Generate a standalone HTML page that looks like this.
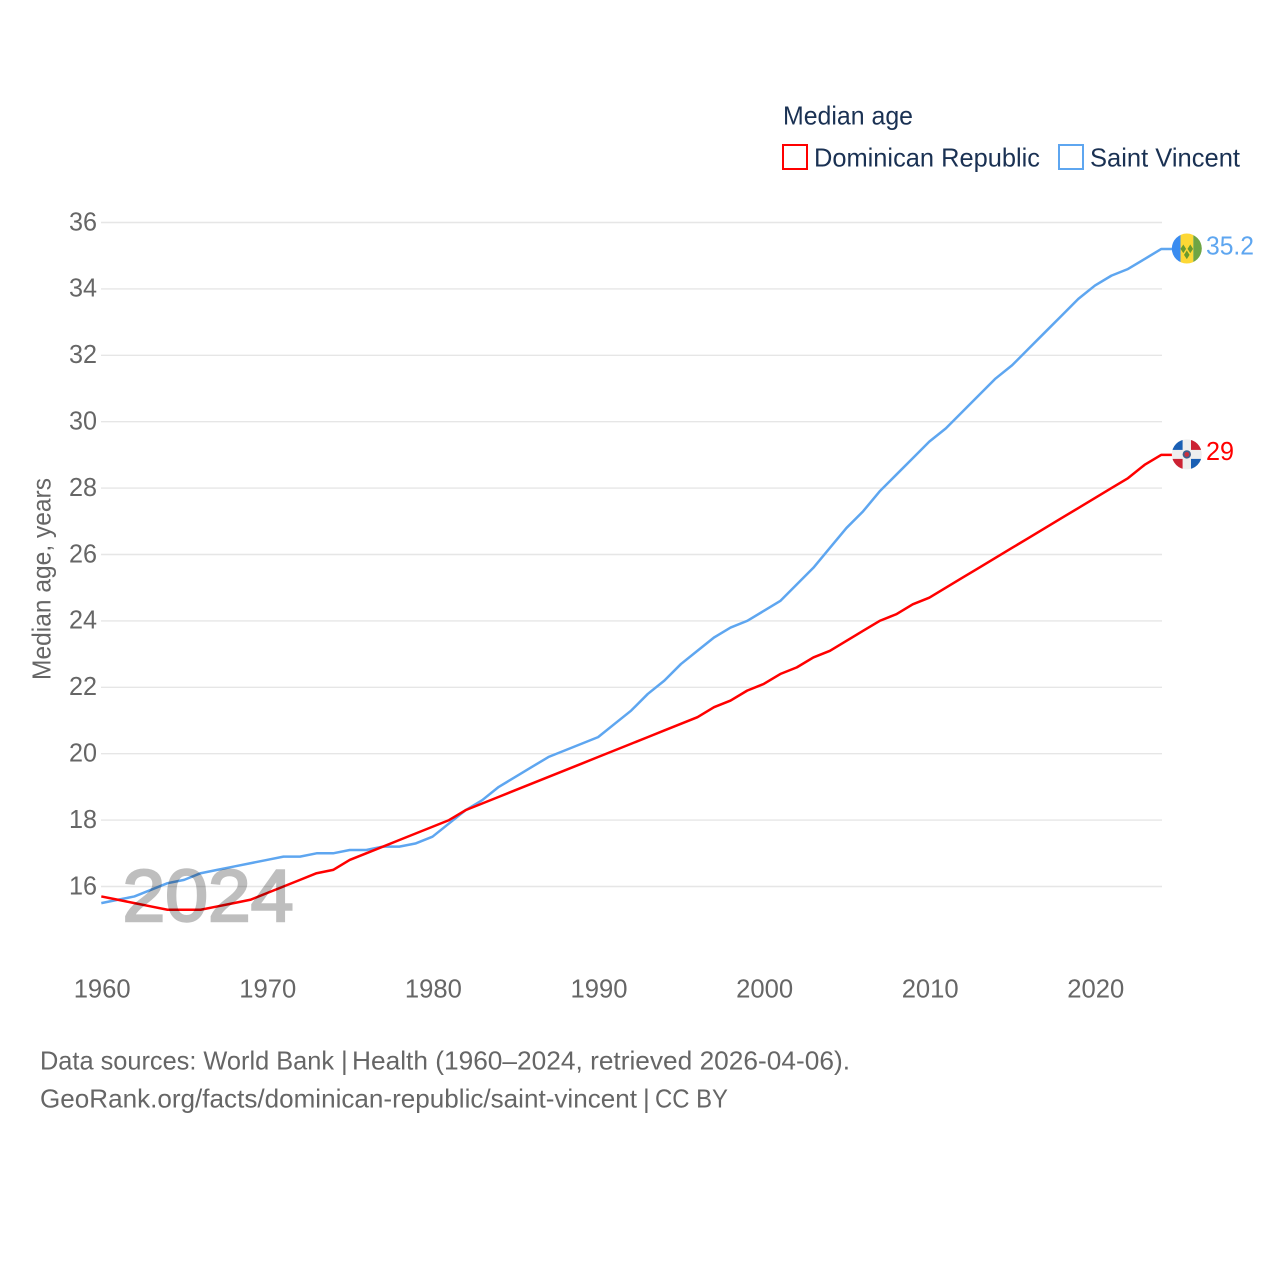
<!DOCTYPE html>
<html lang="en">
<head>
<meta charset="utf-8">
<title>Median age: Dominican Republic and Saint Vincent</title>
<style>
html,body{margin:0;padding:0;background:#fff;width:1280px;height:1280px;overflow:hidden}
svg{display:block}
text{font-family:"Liberation Sans",sans-serif}
</style>
</head>
<body>
<svg id="chart" width="1280" height="1280" viewBox="0 0 1280 1280" xmlns="http://www.w3.org/2000/svg">
  <defs>
    <clipPath id="flag-clip"><circle cx="0" cy="0" r="15"></circle></clipPath>
  </defs>
  <rect x="0" y="0" width="1280" height="1280" fill="#fff"></rect>

  <g>
    <text x="783" y="124.3" font-size="26" fill="#1a3153" textLength="130" lengthAdjust="spacingAndGlyphs">Median age</text>
    <rect x="783" y="145" width="24" height="24" fill="none" stroke="#ff0000" stroke-width="2"></rect>
    <text x="814" y="166.5" font-size="26" fill="#1a3153" textLength="226" lengthAdjust="spacingAndGlyphs">Dominican Republic</text>
    <rect x="1059" y="145" width="24" height="24" fill="none" stroke="#5ea6f0" stroke-width="2"></rect>
    <text x="1090" y="166.5" font-size="26" fill="#1a3153" textLength="150" lengthAdjust="spacingAndGlyphs">Saint Vincent</text>
  </g>

  <g id="grid"></g>
  <g id="y-ticks"></g>
  <g id="x-ticks"></g>

  <text transform="translate(50.5 579) rotate(-90)" text-anchor="middle" font-size="26" fill="#666666" textLength="202" lengthAdjust="spacingAndGlyphs">Median age, years</text>

  <g id="series"></g>

  <text x="122.5" y="921" font-size="73" font-weight="400" fill="#000" stroke="#000" stroke-width="2.4" opacity="0.25" textLength="171" lengthAdjust="spacingAndGlyphs">2024</text>

  <g id="flag-vc">
    <g clip-path="url(#flag-clip)">
      <rect x="-16" y="-16" width="9.7" height="32" fill="#3a8cf0"></rect>
      <rect x="-6.3" y="-16" width="12.8" height="32" fill="#fdd835"></rect>
      <rect x="6.5" y="-16" width="9.5" height="32" fill="#6ea544"></rect>
      <path d="M-3.5 -4 L-0.7 0.3 L-3.5 4.6 L-6.3 0.3Z M3.5 -4 L6.3 0.3 L3.5 4.6 L0.7 0.3Z M0 2 L2.8 6.3 L0 10.6 L-2.8 6.3Z" fill="#6a9a2e"></path>
    </g>
  </g>
  <g id="flag-do">
    <g clip-path="url(#flag-clip)">
      <rect x="-16" y="-16" width="32" height="32" fill="#eeeeee"></rect>
      <rect x="-16" y="-16" width="11.8" height="11.5" fill="#1a5fb4"></rect>
      <rect x="4.2" y="-16" width="11.8" height="11.5" fill="#cc2233"></rect>
      <rect x="-16" y="4.5" width="11.8" height="11.5" fill="#cc2233"></rect>
      <rect x="4.2" y="4.5" width="11.8" height="11.5" fill="#1a5fb4"></rect>
      <circle cx="0" cy="0" r="4.2" fill="#3f5f8c"></circle>
      <circle cx="0" cy="0" r="2.4" fill="#c8303f"></circle>
    </g>
  </g>
  <text id="label-vc" x="1206" font-size="26" fill="#5ea6f0" textLength="48" lengthAdjust="spacingAndGlyphs"></text>
  <text id="label-do" x="1206" font-size="26" fill="#ff0000" textLength="28" lengthAdjust="spacingAndGlyphs"></text>

  <g>
    <text x="40" y="1069.3" font-size="26" fill="#666666" textLength="294" lengthAdjust="spacingAndGlyphs">Data sources: World Bank</text>
    <text x="341" y="1069.3" font-size="26" fill="#666666">|</text>
    <text x="352" y="1069.3" font-size="26" fill="#666666" textLength="498" lengthAdjust="spacingAndGlyphs">Health (1960–2024, retrieved 2026-04-06).</text>
    <text x="40" y="1107.5" font-size="26" fill="#666666" textLength="597" lengthAdjust="spacingAndGlyphs">GeoRank.org/facts/dominican-republic/saint-vincent</text>
    <text x="643" y="1107.5" font-size="26" fill="#666666">|</text>
    <text x="655" y="1107.5" font-size="26" fill="#666666" textLength="73" lengthAdjust="spacingAndGlyphs">CC BY</text>
  </g>
</svg>
<script>
const years = [1960,1961,1962,1963,1964,1965,1966,1967,1968,1969,1970,1971,1972,1973,1974,1975,1976,1977,1978,1979,1980,1981,1982,1983,1984,1985,1986,1987,1988,1989,1990,1991,1992,1993,1994,1995,1996,1997,1998,1999,2000,2001,2002,2003,2004,2005,2006,2007,2008,2009,2010,2011,2012,2013,2014,2015,2016,2017,2018,2019,2020,2021,2022,2023,2024];
const dominicanRepublic = [15.7,15.6,15.5,15.4,15.3,15.3,15.3,15.4,15.5,15.6,15.8,16.0,16.2,16.4,16.5,16.8,17.0,17.2,17.4,17.6,17.8,18.0,18.3,18.5,18.7,18.9,19.1,19.3,19.5,19.7,19.9,20.1,20.3,20.5,20.7,20.9,21.1,21.4,21.6,21.9,22.1,22.4,22.6,22.9,23.1,23.4,23.7,24.0,24.2,24.5,24.7,25.0,25.3,25.6,25.9,26.2,26.5,26.8,27.1,27.4,27.7,28.0,28.3,28.7,29.0];
const saintVincent = [15.5,15.6,15.7,15.9,16.1,16.2,16.4,16.5,16.6,16.7,16.8,16.9,16.9,17.0,17.0,17.1,17.1,17.2,17.2,17.3,17.5,17.9,18.3,18.6,19.0,19.3,19.6,19.9,20.1,20.3,20.5,20.9,21.3,21.8,22.2,22.7,23.1,23.5,23.8,24.0,24.3,24.6,25.1,25.6,26.2,26.8,27.3,27.9,28.4,28.9,29.4,29.8,30.3,30.8,31.3,31.7,32.2,32.7,33.2,33.7,34.1,34.4,34.6,34.9,35.2];
const yTickLabels = [16,18,20,22,24,26,28,30,32,34,36];
const xTickLabels = [1960,1970,1980,1990,2000,2010,2020];

const NS = 'http://www.w3.org/2000/svg';
function xScale(year) { return 101.3 + (year - 1960) * 16.56; }
function yScale(value) { return 886.5 - (value - 16) * 33.2; }
function make(tag, parent, attrs) {
  const el = document.createElementNS(NS, tag);
  for (const k in attrs) el.setAttribute(k, attrs[k]);
  parent.appendChild(el);
  return el;
}

const gridGroup = document.getElementById('grid');
const yGroup = document.getElementById('y-ticks');
yTickLabels.forEach(function (v) {
  const line = make('line', gridGroup, {x1: 101, x2: 1162, y1: yScale(v), y2: yScale(v), stroke: '#e6e6e6', 'stroke-width': 1.4});
  
  
  const t = make('text', yGroup, {x: 69, y: yScale(v) + 7.8, 'font-size': 26, fill: '#666666', textLength: 28, lengthAdjust: 'spacingAndGlyphs'});
  
  
  t.textContent = v;
});

const xGroup = document.getElementById('x-ticks');
xTickLabels.forEach(function (yr) {
  const t = make('text', xGroup, {x: xScale(yr) - 27.6, y: 997.4, 'font-size': 26, fill: '#666666', textLength: 57, lengthAdjust: 'spacingAndGlyphs'});
  
  
  t.textContent = yr;
});

function drawSeries(values, color, name) {
  const group = document.getElementById('series');
  const pts = values.map(function (v, i) { return xScale(years[i]).toFixed(2) + ',' + yScale(v).toFixed(2); });
  const last = values[values.length - 1];
  pts.push('1172,' + yScale(last).toFixed(2));
  const line = make('polyline', group, {points: pts.join(' '), fill: 'none', stroke: color, 'stroke-width': 2.5, 'stroke-linejoin': 'round'});
  
  
}
drawSeries(saintVincent, '#5ea6f0', 'saint-vincent');
drawSeries(dominicanRepublic, '#ff0000', 'dominican-republic');

function placeEnd(values, flagId, labelId) {
  const last = values[values.length - 1];
  const y = yScale(last);
  document.getElementById(flagId).setAttribute('transform', 'translate(1186.8 ' + (y - 0.5) + ')');
  const label = document.getElementById(labelId);
  label.setAttribute('y', y + 5.3);
  label.textContent = String(last);
}
placeEnd(saintVincent, 'flag-vc', 'label-vc');
placeEnd(dominicanRepublic, 'flag-do', 'label-do');
</script>
</body>
</html>
